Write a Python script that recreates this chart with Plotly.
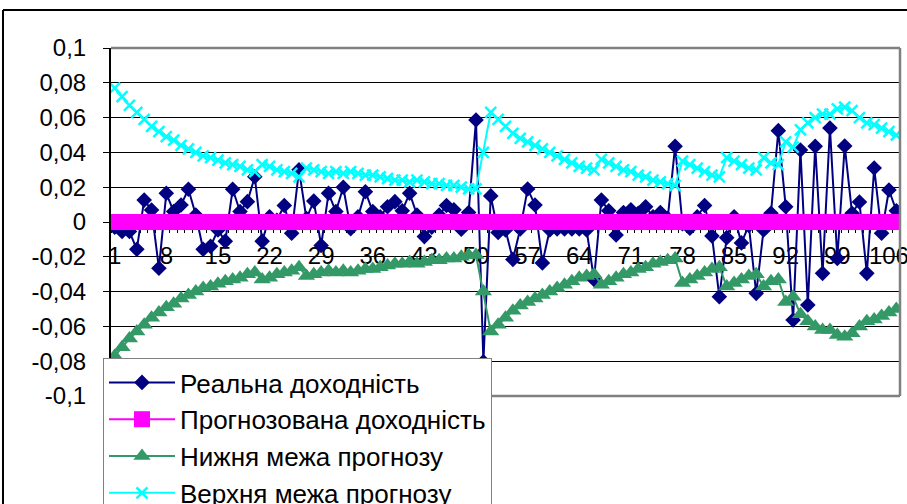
import plotly.graph_objects as go

# Period numbers (category axis)
periods = list(range(1, 108))

# Actual returns
real_return = [
    -0.003, -0.0055, -0.0055, -0.0157, 0.0126, 0.0069, -0.0266, 0.0165, 0.006, 0.0098,
    0.0188, 0.004, -0.0157, -0.014, -0.0046, -0.011, 0.0188, 0.006, 0.0117, 0.026,
    -0.011, 0.003, 0.001, 0.0095, -0.0065, 0.030, 0.002, 0.012, -0.0135, 0.0165,
    0.006, 0.020, -0.0038, 0.003, 0.0174, 0.006, 0.003, 0.0088, 0.0117, 0.0065,
    0.0165, 0.004, -0.0084, -0.003, 0.004, 0.0095, 0.007, -0.0042, 0.0055, 0.0586,
    -0.0803, 0.015, -0.006, -0.0046, -0.0215, -0.004, 0.019, 0.0098, -0.0235, -0.0046,
    -0.004, -0.004, -0.004, -0.004, -0.0046, -0.033, 0.0126, 0.0065, -0.0075, 0.0055,
    0.007, 0.005, 0.0088, 0.003, 0.0055, 0.002, 0.0435, -0.001, -0.0036, 0.003,
    0.0095, -0.008, -0.043, -0.009, 0.003, -0.012, -0.002, -0.041, -0.0046, 0.005,
    0.0525, 0.0088, -0.0563, 0.0414, -0.0477, 0.0435, -0.0295, 0.054, -0.021, 0.0437,
    0.005, 0.0115, -0.0295, 0.031, -0.0065, 0.0184, 0.0065,
]

# Forecast return (constant zero)
forecast_return = [0.0] * len(periods)

# Upper forecast bound
upper_bound = [
    0.077, 0.072, 0.067, 0.063, 0.059, 0.055, 0.052, 0.049, 0.047, 0.044,
    0.042, 0.040, 0.038, 0.037, 0.0355, 0.034, 0.033, 0.032, 0.030, 0.029,
    0.033, 0.032, 0.030, 0.029, 0.028, 0.026, 0.031, 0.030, 0.029, 0.028,
    0.029, 0.028, 0.029, 0.028, 0.027, 0.027, 0.026, 0.025, 0.024, 0.024,
    0.023, 0.024, 0.023, 0.022, 0.022, 0.021, 0.021, 0.020, 0.019, 0.019,
    0.040, 0.063, 0.059, 0.055, 0.051, 0.048, 0.046, 0.044, 0.042, 0.040,
    0.038, 0.036, 0.034, 0.032, 0.031, 0.030, 0.036, 0.034, 0.032, 0.030,
    0.029, 0.027, 0.026, 0.024, 0.023, 0.022, 0.021, 0.035, 0.033, 0.031,
    0.029, 0.027, 0.026, 0.037, 0.035, 0.033, 0.031, 0.030, 0.037, 0.034,
    0.033, 0.046, 0.043, 0.053, 0.057, 0.060, 0.062, 0.062, 0.065, 0.066,
    0.064, 0.060, 0.057, 0.056, 0.054, 0.052, 0.050,
]

# Lower forecast bound
lower_bound = [
    -0.077, -0.072, -0.067, -0.063, -0.059, -0.055, -0.052, -0.049, -0.047, -0.044,
    -0.042, -0.040, -0.038, -0.037, -0.0355, -0.034, -0.033, -0.032, -0.030, -0.029,
    -0.033, -0.032, -0.030, -0.029, -0.028, -0.026, -0.031, -0.030, -0.029, -0.028,
    -0.029, -0.028, -0.029, -0.028, -0.027, -0.027, -0.026, -0.025, -0.024, -0.024,
    -0.023, -0.024, -0.023, -0.022, -0.022, -0.021, -0.021, -0.020, -0.019, -0.019,
    -0.040, -0.063, -0.059, -0.055, -0.051, -0.048, -0.046, -0.044, -0.042, -0.040,
    -0.038, -0.036, -0.034, -0.032, -0.031, -0.030, -0.036, -0.034, -0.032, -0.030,
    -0.029, -0.027, -0.026, -0.024, -0.023, -0.022, -0.021, -0.035, -0.033, -0.031,
    -0.029, -0.027, -0.026, -0.037, -0.035, -0.033, -0.031, -0.030, -0.037, -0.034,
    -0.033, -0.046, -0.043, -0.053, -0.057, -0.060, -0.062, -0.062, -0.065, -0.066,
    -0.064, -0.060, -0.057, -0.056, -0.054, -0.052, -0.050,
]

series_names = [
    "Реальна доходність",
    "Прогнозована доходність",
    "Нижня межа прогнозу",
    "Верхня межа прогнозу",
]

x_tick_vals = [1, 8, 15, 22, 29, 36, 43, 50, 57, 64, 71, 78, 85, 92, 99, 106]
x_tick_text = [str(v) for v in x_tick_vals]
y_tick_vals = [0.1, 0.08, 0.06, 0.04, 0.02, 0.0, -0.02, -0.04, -0.06, -0.08, -0.1]
y_tick_text = ["0,1", "0,08", "0,06", "0,04", "0,02", "0",
               "-0,02", "-0,04", "-0,06", "-0,08", "-0,1"]

FONT = "Liberation Sans, Arial, sans-serif"

fig = go.Figure()
fig.add_trace(go.Scatter(
    x=periods, y=real_return, name=series_names[0], mode="lines+markers",
    line=dict(color="#000080", width=2),
    marker=dict(symbol="diamond", size=12, color="#000080"),
    legendgroup="a",
))
fig.add_trace(go.Scatter(
    x=periods, y=forecast_return, name=series_names[1], mode="lines+markers",
    line=dict(color="#FF00FF", width=2),
    marker=dict(symbol="square", size=16, color="#FF00FF"),
    legendgroup="b",
))
fig.add_trace(go.Scatter(
    x=periods, y=lower_bound, name=series_names[2], mode="lines+markers",
    line=dict(color="#339966", width=2),
    marker=dict(symbol="triangle-up", size=15, color="#339966"),
    legendgroup="c",
))
fig.add_trace(go.Scatter(
    x=periods, y=upper_bound, name=series_names[3], mode="lines+markers",
    line=dict(color="#00FFFF", width=2),
    marker=dict(symbol="x-thin", size=11, color="#00FFFF",
                line=dict(color="#00FFFF", width=2.5)),
    legendgroup="d",
))

L, R, T, B = 111, 900, 48, 396
W, H = R - L, B - T


def px(xp):
    return (xp - L) / W


def py(yp):
    return (B - yp) / H


shapes = [
    # plot-area frame (top, right, bottom)
    dict(type="line", xref="paper", yref="paper", x0=0, x1=1, y0=1, y1=1,
         line=dict(color="#808080", width=2.5)),
    dict(type="line", xref="paper", yref="paper", x0=1, x1=1, y0=0, y1=1,
         line=dict(color="#808080", width=2.5)),
    dict(type="line", xref="paper", yref="paper", x0=0, x1=1, y0=0, y1=0,
         line=dict(color="#808080", width=2.5)),
    # chart-area frame
    dict(type="line", xref="paper", yref="paper", x0=px(3), x1=px(912),
         y0=py(10), y1=py(10), line=dict(color="black", width=2)),
    dict(type="line", xref="paper", yref="paper", x0=px(3), x1=px(3),
         y0=py(10), y1=py(515), line=dict(color="black", width=2)),
]

fig.update_layout(
    width=907, height=504,
    margin=dict(l=L, r=907 - R, t=T, b=504 - B, autoexpand=False),
    paper_bgcolor="white", plot_bgcolor="white",
    font=dict(family=FONT, size=24, color="black"),
    showlegend=True,
    legend=dict(
        x=px(103), y=py(358), xanchor="left", yanchor="top",
        bgcolor="white", bordercolor="#808080", borderwidth=1,
        font=dict(family=FONT, size=26, color="black"),
        tracegroupgap=0, itemwidth=66,
    ),
    shapes=shapes,
    xaxis=dict(
        range=[0.5, 107.5], tickmode="array", tickvals=x_tick_vals, ticktext=x_tick_text,
        ticks="", showgrid=False, zeroline=False, showline=False,
        anchor="free", position=0.5, layer="below traces",
        ticklabelstandoff=17, ticklabeloverflow="allow",
        minor=dict(tickvals=[k + 0.5 for k in range(0, 108)], ticks="outside",
                   ticklen=10, tickcolor="black", tickwidth=1, showgrid=False),
    ),
    yaxis=dict(
        range=[-0.1, 0.1], tickmode="array", tickvals=y_tick_vals, ticktext=y_tick_text,
        showgrid=True, gridcolor="black", gridwidth=1, zeroline=False,
        showline=True, linecolor="black", linewidth=2,
        ticks="outside", ticklen=6, tickcolor="black", ticklabelstandoff=12,
    ),
)

fig.write_html("out.html")
